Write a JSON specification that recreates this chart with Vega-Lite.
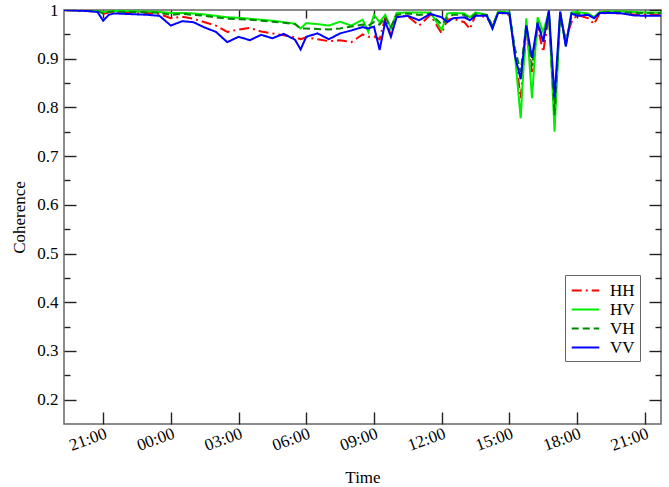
{
"$schema":"https://vega.github.io/schema/vega-lite/v6.json",
"width":597,"height":414,"autosize":"none",
"padding":{"left":64,"top":10,"right":8,"bottom":63},
"config":{"view":{"stroke":"#666","strokeWidth":1.5},"font":"Times New Roman",
"axis":{"grid":false,"domain":false,"tickColor":"#222","tickWidth":1.4,"tickOpacity":1,"labelColor":"#000","titleColor":"#000","labelFont":"Times New Roman","titleFont":"Times New Roman","titleFontWeight":"normal","labelFontSize":17,"titleFontSize":17},
"legend":{"labelFont":"Times New Roman"}},
"data":{"values":[
{"t":"2024-01-01T19:16","s":"HH","v":1.0},{"t":"2024-01-01T19:45","s":"HH","v":0.999},{"t":"2024-01-01T20:15","s":"HH","v":0.998},{"t":"2024-01-01T20:45","s":"HH","v":0.997},{"t":"2024-01-01T21:00","s":"HH","v":0.992},{"t":"2024-01-01T21:15","s":"HH","v":0.995},{"t":"2024-01-01T21:30","s":"HH","v":0.996},{"t":"2024-01-01T22:00","s":"HH","v":0.995},{"t":"2024-01-01T22:30","s":"HH","v":0.994},{"t":"2024-01-01T23:00","s":"HH","v":0.994},{"t":"2024-01-01T23:30","s":"HH","v":0.992},{"t":"2024-01-02T00:00","s":"HH","v":0.983},{"t":"2024-01-02T00:30","s":"HH","v":0.986},{"t":"2024-01-02T01:00","s":"HH","v":0.982},{"t":"2024-01-02T01:30","s":"HH","v":0.975},{"t":"2024-01-02T02:00","s":"HH","v":0.968},{"t":"2024-01-02T02:30","s":"HH","v":0.955},{"t":"2024-01-02T03:00","s":"HH","v":0.96},{"t":"2024-01-02T03:30","s":"HH","v":0.963},{"t":"2024-01-02T04:00","s":"HH","v":0.956},{"t":"2024-01-02T04:30","s":"HH","v":0.952},{"t":"2024-01-02T05:00","s":"HH","v":0.948},{"t":"2024-01-02T05:30","s":"HH","v":0.944},{"t":"2024-01-02T05:45","s":"HH","v":0.94},{"t":"2024-01-02T06:00","s":"HH","v":0.944},{"t":"2024-01-02T06:30","s":"HH","v":0.94},{"t":"2024-01-02T07:00","s":"HH","v":0.936},{"t":"2024-01-02T07:30","s":"HH","v":0.938},{"t":"2024-01-02T08:00","s":"HH","v":0.934},{"t":"2024-01-02T08:30","s":"HH","v":0.95},{"t":"2024-01-02T08:45","s":"HH","v":0.945},{"t":"2024-01-02T09:00","s":"HH","v":0.946},{"t":"2024-01-02T09:15","s":"HH","v":0.94},{"t":"2024-01-02T09:30","s":"HH","v":0.985},{"t":"2024-01-02T09:45","s":"HH","v":0.948},{"t":"2024-01-02T10:00","s":"HH","v":0.987},{"t":"2024-01-02T10:30","s":"HH","v":0.987},{"t":"2024-01-02T11:00","s":"HH","v":0.968},{"t":"2024-01-02T11:30","s":"HH","v":0.99},{"t":"2024-01-02T12:00","s":"HH","v":0.952},{"t":"2024-01-02T12:15","s":"HH","v":0.98},{"t":"2024-01-02T12:30","s":"HH","v":0.982},{"t":"2024-01-02T13:00","s":"HH","v":0.975},{"t":"2024-01-02T13:15","s":"HH","v":0.961},{"t":"2024-01-02T13:30","s":"HH","v":0.99},{"t":"2024-01-02T14:00","s":"HH","v":0.985},{"t":"2024-01-02T14:15","s":"HH","v":0.966},{"t":"2024-01-02T14:30","s":"HH","v":0.995},{"t":"2024-01-02T15:00","s":"HH","v":0.99},{"t":"2024-01-02T15:15","s":"HH","v":0.91},{"t":"2024-01-02T15:30","s":"HH","v":0.819},{"t":"2024-01-02T15:45","s":"HH","v":0.955},{"t":"2024-01-02T16:00","s":"HH","v":0.873},{"t":"2024-01-02T16:15","s":"HH","v":0.965},{"t":"2024-01-02T16:30","s":"HH","v":0.914},{"t":"2024-01-02T16:45","s":"HH","v":0.99},{"t":"2024-01-02T17:00","s":"HH","v":0.79},{"t":"2024-01-02T17:15","s":"HH","v":0.985},{"t":"2024-01-02T17:30","s":"HH","v":0.94},{"t":"2024-01-02T17:45","s":"HH","v":0.975},{"t":"2024-01-02T18:00","s":"HH","v":0.99},{"t":"2024-01-02T18:30","s":"HH","v":0.983},{"t":"2024-01-02T18:45","s":"HH","v":0.971},{"t":"2024-01-02T19:00","s":"HH","v":0.993},{"t":"2024-01-02T19:30","s":"HH","v":0.994},{"t":"2024-01-02T20:00","s":"HH","v":0.993},{"t":"2024-01-02T20:30","s":"HH","v":0.991},{"t":"2024-01-02T21:00","s":"HH","v":0.991},{"t":"2024-01-02T21:43","s":"HH","v":0.991},
{"t":"2024-01-01T19:16","s":"HV","v":1.0},{"t":"2024-01-01T19:45","s":"HV","v":1.0},{"t":"2024-01-01T20:15","s":"HV","v":0.999},{"t":"2024-01-01T20:45","s":"HV","v":0.998},{"t":"2024-01-01T21:00","s":"HV","v":0.996},{"t":"2024-01-01T21:15","s":"HV","v":0.997},{"t":"2024-01-01T21:30","s":"HV","v":0.998},{"t":"2024-01-01T22:00","s":"HV","v":0.998},{"t":"2024-01-01T22:30","s":"HV","v":0.997},{"t":"2024-01-01T23:00","s":"HV","v":0.997},{"t":"2024-01-01T23:30","s":"HV","v":0.996},{"t":"2024-01-02T00:00","s":"HV","v":0.994},{"t":"2024-01-02T00:30","s":"HV","v":0.994},{"t":"2024-01-02T01:00","s":"HV","v":0.993},{"t":"2024-01-02T01:30","s":"HV","v":0.991},{"t":"2024-01-02T02:00","s":"HV","v":0.988},{"t":"2024-01-02T02:30","s":"HV","v":0.985},{"t":"2024-01-02T03:00","s":"HV","v":0.984},{"t":"2024-01-02T03:30","s":"HV","v":0.982},{"t":"2024-01-02T04:00","s":"HV","v":0.98},{"t":"2024-01-02T04:30","s":"HV","v":0.978},{"t":"2024-01-02T05:00","s":"HV","v":0.975},{"t":"2024-01-02T05:30","s":"HV","v":0.972},{"t":"2024-01-02T05:45","s":"HV","v":0.962},{"t":"2024-01-02T06:00","s":"HV","v":0.973},{"t":"2024-01-02T06:30","s":"HV","v":0.971},{"t":"2024-01-02T07:00","s":"HV","v":0.968},{"t":"2024-01-02T07:30","s":"HV","v":0.976},{"t":"2024-01-02T08:00","s":"HV","v":0.968},{"t":"2024-01-02T08:30","s":"HV","v":0.98},{"t":"2024-01-02T08:45","s":"HV","v":0.955},{"t":"2024-01-02T09:00","s":"HV","v":0.99},{"t":"2024-01-02T09:15","s":"HV","v":0.975},{"t":"2024-01-02T09:30","s":"HV","v":0.99},{"t":"2024-01-02T09:45","s":"HV","v":0.962},{"t":"2024-01-02T10:00","s":"HV","v":0.994},{"t":"2024-01-02T10:30","s":"HV","v":0.995},{"t":"2024-01-02T11:00","s":"HV","v":0.995},{"t":"2024-01-02T11:30","s":"HV","v":0.995},{"t":"2024-01-02T12:00","s":"HV","v":0.959},{"t":"2024-01-02T12:15","s":"HV","v":0.993},{"t":"2024-01-02T12:30","s":"HV","v":0.994},{"t":"2024-01-02T13:00","s":"HV","v":0.993},{"t":"2024-01-02T13:15","s":"HV","v":0.985},{"t":"2024-01-02T13:30","s":"HV","v":0.995},{"t":"2024-01-02T14:00","s":"HV","v":0.99},{"t":"2024-01-02T14:15","s":"HV","v":0.962},{"t":"2024-01-02T14:30","s":"HV","v":0.997},{"t":"2024-01-02T15:00","s":"HV","v":0.995},{"t":"2024-01-02T15:15","s":"HV","v":0.905},{"t":"2024-01-02T15:30","s":"HV","v":0.778},{"t":"2024-01-02T15:45","s":"HV","v":0.983},{"t":"2024-01-02T16:00","s":"HV","v":0.819},{"t":"2024-01-02T16:15","s":"HV","v":0.985},{"t":"2024-01-02T16:30","s":"HV","v":0.955},{"t":"2024-01-02T16:45","s":"HV","v":0.997},{"t":"2024-01-02T17:00","s":"HV","v":0.75},{"t":"2024-01-02T17:15","s":"HV","v":0.995},{"t":"2024-01-02T17:30","s":"HV","v":0.928},{"t":"2024-01-02T17:45","s":"HV","v":0.995},{"t":"2024-01-02T18:00","s":"HV","v":0.996},{"t":"2024-01-02T18:30","s":"HV","v":0.993},{"t":"2024-01-02T18:45","s":"HV","v":0.985},{"t":"2024-01-02T19:00","s":"HV","v":0.996},{"t":"2024-01-02T19:30","s":"HV","v":0.997},{"t":"2024-01-02T20:00","s":"HV","v":0.997},{"t":"2024-01-02T20:30","s":"HV","v":0.996},{"t":"2024-01-02T21:00","s":"HV","v":0.995},{"t":"2024-01-02T21:43","s":"HV","v":0.995},
{"t":"2024-01-01T19:16","s":"VH","v":1.0},{"t":"2024-01-01T19:45","s":"VH","v":0.999},{"t":"2024-01-01T20:15","s":"VH","v":0.999},{"t":"2024-01-01T20:45","s":"VH","v":0.998},{"t":"2024-01-01T21:00","s":"VH","v":0.993},{"t":"2024-01-01T21:15","s":"VH","v":0.996},{"t":"2024-01-01T21:30","s":"VH","v":0.997},{"t":"2024-01-01T22:00","s":"VH","v":0.996},{"t":"2024-01-01T22:30","s":"VH","v":0.996},{"t":"2024-01-01T23:00","s":"VH","v":0.995},{"t":"2024-01-01T23:30","s":"VH","v":0.994},{"t":"2024-01-02T00:00","s":"VH","v":0.99},{"t":"2024-01-02T00:30","s":"VH","v":0.992},{"t":"2024-01-02T01:00","s":"VH","v":0.99},{"t":"2024-01-02T01:30","s":"VH","v":0.988},{"t":"2024-01-02T02:00","s":"VH","v":0.985},{"t":"2024-01-02T02:30","s":"VH","v":0.982},{"t":"2024-01-02T03:00","s":"VH","v":0.981},{"t":"2024-01-02T03:30","s":"VH","v":0.98},{"t":"2024-01-02T04:00","s":"VH","v":0.978},{"t":"2024-01-02T04:30","s":"VH","v":0.976},{"t":"2024-01-02T05:00","s":"VH","v":0.974},{"t":"2024-01-02T05:30","s":"VH","v":0.971},{"t":"2024-01-02T05:45","s":"VH","v":0.962},{"t":"2024-01-02T06:00","s":"VH","v":0.962},{"t":"2024-01-02T06:30","s":"VH","v":0.961},{"t":"2024-01-02T07:00","s":"VH","v":0.96},{"t":"2024-01-02T07:30","s":"VH","v":0.962},{"t":"2024-01-02T08:00","s":"VH","v":0.966},{"t":"2024-01-02T08:30","s":"VH","v":0.97},{"t":"2024-01-02T08:45","s":"VH","v":0.968},{"t":"2024-01-02T09:00","s":"VH","v":0.975},{"t":"2024-01-02T09:15","s":"VH","v":0.97},{"t":"2024-01-02T09:30","s":"VH","v":0.985},{"t":"2024-01-02T09:45","s":"VH","v":0.965},{"t":"2024-01-02T10:00","s":"VH","v":0.99},{"t":"2024-01-02T10:30","s":"VH","v":0.993},{"t":"2024-01-02T11:00","s":"VH","v":0.99},{"t":"2024-01-02T11:30","s":"VH","v":0.993},{"t":"2024-01-02T12:00","s":"VH","v":0.97},{"t":"2024-01-02T12:15","s":"VH","v":0.985},{"t":"2024-01-02T12:30","s":"VH","v":0.99},{"t":"2024-01-02T13:00","s":"VH","v":0.99},{"t":"2024-01-02T13:15","s":"VH","v":0.982},{"t":"2024-01-02T13:30","s":"VH","v":0.992},{"t":"2024-01-02T14:00","s":"VH","v":0.99},{"t":"2024-01-02T14:15","s":"VH","v":0.968},{"t":"2024-01-02T14:30","s":"VH","v":0.995},{"t":"2024-01-02T15:00","s":"VH","v":0.993},{"t":"2024-01-02T15:15","s":"VH","v":0.92},{"t":"2024-01-02T15:30","s":"VH","v":0.873},{"t":"2024-01-02T15:45","s":"VH","v":0.97},{"t":"2024-01-02T16:00","s":"VH","v":0.885},{"t":"2024-01-02T16:15","s":"VH","v":0.975},{"t":"2024-01-02T16:30","s":"VH","v":0.94},{"t":"2024-01-02T16:45","s":"VH","v":0.995},{"t":"2024-01-02T17:00","s":"VH","v":0.784},{"t":"2024-01-02T17:15","s":"VH","v":0.993},{"t":"2024-01-02T17:30","s":"VH","v":0.93},{"t":"2024-01-02T17:45","s":"VH","v":0.99},{"t":"2024-01-02T18:00","s":"VH","v":0.993},{"t":"2024-01-02T18:30","s":"VH","v":0.99},{"t":"2024-01-02T18:45","s":"VH","v":0.983},{"t":"2024-01-02T19:00","s":"VH","v":0.995},{"t":"2024-01-02T19:30","s":"VH","v":0.996},{"t":"2024-01-02T20:00","s":"VH","v":0.995},{"t":"2024-01-02T20:30","s":"VH","v":0.994},{"t":"2024-01-02T21:00","s":"VH","v":0.994},{"t":"2024-01-02T21:43","s":"VH","v":0.994},
{"t":"2024-01-01T19:16","s":"VV","v":1.0},{"t":"2024-01-01T19:45","s":"VV","v":0.999},{"t":"2024-01-01T20:15","s":"VV","v":0.998},{"t":"2024-01-01T20:45","s":"VV","v":0.996},{"t":"2024-01-01T21:00","s":"VV","v":0.978},{"t":"2024-01-01T21:15","s":"VV","v":0.99},{"t":"2024-01-01T21:30","s":"VV","v":0.993},{"t":"2024-01-01T22:00","s":"VV","v":0.992},{"t":"2024-01-01T22:30","s":"VV","v":0.991},{"t":"2024-01-01T23:00","s":"VV","v":0.99},{"t":"2024-01-01T23:30","s":"VV","v":0.988},{"t":"2024-01-02T00:00","s":"VV","v":0.968},{"t":"2024-01-02T00:30","s":"VV","v":0.977},{"t":"2024-01-02T01:00","s":"VV","v":0.975},{"t":"2024-01-02T01:30","s":"VV","v":0.964},{"t":"2024-01-02T02:00","s":"VV","v":0.955},{"t":"2024-01-02T02:30","s":"VV","v":0.934},{"t":"2024-01-02T03:00","s":"VV","v":0.945},{"t":"2024-01-02T03:30","s":"VV","v":0.938},{"t":"2024-01-02T04:00","s":"VV","v":0.949},{"t":"2024-01-02T04:30","s":"VV","v":0.942},{"t":"2024-01-02T05:00","s":"VV","v":0.951},{"t":"2024-01-02T05:30","s":"VV","v":0.939},{"t":"2024-01-02T05:45","s":"VV","v":0.919},{"t":"2024-01-02T06:00","s":"VV","v":0.945},{"t":"2024-01-02T06:30","s":"VV","v":0.952},{"t":"2024-01-02T07:00","s":"VV","v":0.94},{"t":"2024-01-02T07:30","s":"VV","v":0.952},{"t":"2024-01-02T08:00","s":"VV","v":0.958},{"t":"2024-01-02T08:30","s":"VV","v":0.965},{"t":"2024-01-02T08:45","s":"VV","v":0.962},{"t":"2024-01-02T09:00","s":"VV","v":0.966},{"t":"2024-01-02T09:15","s":"VV","v":0.918},{"t":"2024-01-02T09:30","s":"VV","v":0.976},{"t":"2024-01-02T09:45","s":"VV","v":0.945},{"t":"2024-01-02T10:00","s":"VV","v":0.985},{"t":"2024-01-02T10:30","s":"VV","v":0.988},{"t":"2024-01-02T11:00","s":"VV","v":0.979},{"t":"2024-01-02T11:30","s":"VV","v":0.992},{"t":"2024-01-02T12:00","s":"VV","v":0.985},{"t":"2024-01-02T12:15","s":"VV","v":0.975},{"t":"2024-01-02T12:30","s":"VV","v":0.983},{"t":"2024-01-02T13:00","s":"VV","v":0.985},{"t":"2024-01-02T13:15","s":"VV","v":0.979},{"t":"2024-01-02T13:30","s":"VV","v":0.988},{"t":"2024-01-02T14:00","s":"VV","v":0.988},{"t":"2024-01-02T14:15","s":"VV","v":0.962},{"t":"2024-01-02T14:30","s":"VV","v":0.994},{"t":"2024-01-02T15:00","s":"VV","v":0.993},{"t":"2024-01-02T15:15","s":"VV","v":0.905},{"t":"2024-01-02T15:30","s":"VV","v":0.858},{"t":"2024-01-02T15:45","s":"VV","v":0.968},{"t":"2024-01-02T16:00","s":"VV","v":0.902},{"t":"2024-01-02T16:15","s":"VV","v":0.973},{"t":"2024-01-02T16:30","s":"VV","v":0.935},{"t":"2024-01-02T16:45","s":"VV","v":0.999},{"t":"2024-01-02T17:00","s":"VV","v":0.82},{"t":"2024-01-02T17:15","s":"VV","v":0.997},{"t":"2024-01-02T17:30","s":"VV","v":0.925},{"t":"2024-01-02T17:45","s":"VV","v":0.993},{"t":"2024-01-02T18:00","s":"VV","v":0.988},{"t":"2024-01-02T18:30","s":"VV","v":0.99},{"t":"2024-01-02T18:45","s":"VV","v":0.983},{"t":"2024-01-02T19:00","s":"VV","v":0.994},{"t":"2024-01-02T19:30","s":"VV","v":0.994},{"t":"2024-01-02T20:00","s":"VV","v":0.993},{"t":"2024-01-02T20:30","s":"VV","v":0.989},{"t":"2024-01-02T21:00","s":"VV","v":0.988},{"t":"2024-01-02T21:43","s":"VV","v":0.988}
]},
"layer":[
{"mark":{"type":"line","strokeWidth":2,"clip":true},
"encoding":{
"x":{"field":"t","type":"temporal","title":"Time","scale":{"domain":["2024-01-01T19:16","2024-01-02T21:43"]},
"axis":{"orient":"bottom","format":"%H:%M","values":["2024-01-01T21:00","2024-01-02T00:00","2024-01-02T03:00","2024-01-02T06:00","2024-01-02T09:00","2024-01-02T12:00","2024-01-02T15:00","2024-01-02T18:00","2024-01-02T21:00"],"labelAngle":-20,"ticks":false,"labelPadding":1,"labelDx":6,"titlePadding":16,"labelFlush":false,"labelOverlap":false}},
"y":{"field":"v","type":"quantitative","title":"Coherence","scale":{"domain":[0.15,1.0],"nice":false,"zero":false},
"axis":{"orient":"left","values":[0.2,0.3,0.4,0.5,0.6,0.7,0.8,0.9,1.0],"format":".1~f","ticks":false,"labelPadding":6,"titlePadding":8,"labelFlush":false,"labelOverlap":false}},
"color":{"field":"s","type":"nominal","scale":{"domain":["HH","HV","VH","VV"],"range":["#ff0000","#00ee00","#008800","#0000ff"]},
"legend":{"orient":"none","legendX":501,"legendY":265,"title":null,"labelFontSize":17,"symbolType":"M-1.45,0H1.45","symbolStrokeWidth":2,"symbolSize":361,"symbolOffset":5,"rowPadding":0,"labelOffset":14,"strokeColor":"#666","fillColor":"white","padding":5}},
"strokeDash":{"field":"s","type":"nominal","scale":{"domain":["HH","HV","VH","VV"],"range":[[10,4,2,4],[1,0],[7,4],[1,0]]}}
}},
{"mark":{"type":"line","opacity":0},
"encoding":{
"x":{"field":"t","type":"temporal","axis":{"orient":"top","labels":false,"title":null,"ticks":true,"values":["2024-01-01T21:00","2024-01-02T00:00","2024-01-02T03:00","2024-01-02T06:00","2024-01-02T09:00","2024-01-02T12:00","2024-01-02T15:00","2024-01-02T18:00","2024-01-02T21:00"],"offset":-8,"tickSize":8}},
"y":{"field":"v","type":"quantitative","axis":{"orient":"right","labels":false,"title":null,"ticks":true,"values":[0.2,0.3,0.4,0.5,0.6,0.7,0.8,0.9,1.0],"offset":-12,"tickSize":12}}
}},
{"mark":{"type":"line","opacity":0},
"encoding":{
"x":{"field":"t","type":"temporal","axis":{"orient":"bottom","labels":false,"title":null,"ticks":true,"values":["2024-01-01T21:00","2024-01-02T00:00","2024-01-02T03:00","2024-01-02T06:00","2024-01-02T09:00","2024-01-02T12:00","2024-01-02T15:00","2024-01-02T18:00","2024-01-02T21:00"],"offset":-12,"tickSize":12}},
"y":{"field":"v","type":"quantitative","axis":{"orient":"left","labels":false,"title":null,"ticks":true,"values":[0.2,0.3,0.4,0.5,0.6,0.7,0.8,0.9,1.0],"offset":-12,"tickSize":12}}
}},
{"mark":{"type":"line","opacity":0},
"encoding":{
"x":{"field":"t","type":"temporal","axis":null},
"y":{"field":"v","type":"quantitative","axis":{"orient":"left","labels":false,"title":null,"ticks":true,"values":[0.25,0.35,0.45,0.55,0.65,0.75,0.85,0.95],"offset":-6,"tickSize":6}}
}},
{"mark":{"type":"line","opacity":0},
"encoding":{
"x":{"field":"t","type":"temporal","axis":null},
"y":{"field":"v","type":"quantitative","axis":{"orient":"right","labels":false,"title":null,"ticks":true,"values":[0.25,0.35,0.45,0.55,0.65,0.75,0.85,0.95],"offset":-6,"tickSize":6}}
}}
],
"resolve":{"axis":{"x":"independent","y":"independent"}}
}
